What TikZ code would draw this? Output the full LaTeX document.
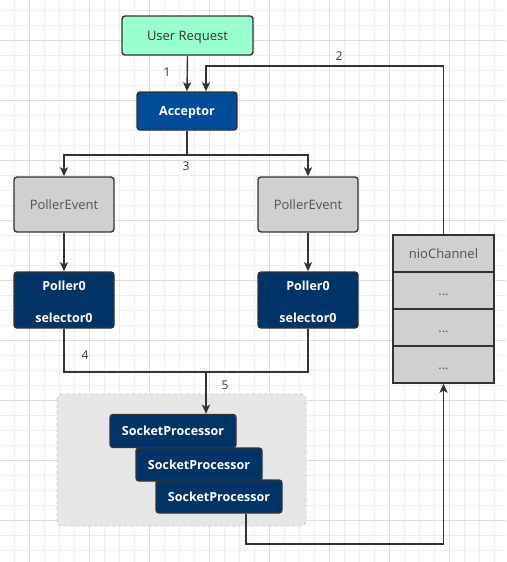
\documentclass[tikz,border=0pt]{standalone}
\usepackage{fontspec}
\setmainfont{Open Sans}
\usetikzlibrary{arrows.meta}
\definecolor{gridminor}{HTML}{EDEDED}
\definecolor{gridmajor}{HTML}{DCDCDC}
\definecolor{edge}{HTML}{333333}
\definecolor{mint}{HTML}{99FFCC}
\definecolor{accblue}{HTML}{004C99}
\definecolor{navy}{HTML}{003366}
\definecolor{lgray}{HTML}{D0D0D0}
\definecolor{poolfill}{HTML}{E6E6E6}
\definecolor{poolline}{HTML}{C8C8C8}
\tikzset{
  lbl/.style={font=\fontsize{13}{15.5}\selectfont},
  lblb/.style={font=\fontsize{12.5}{15}\selectfont\bfseries},
  oneline/.style={text height=11pt, text depth=2pt},
  box/.style={draw=edge, line width=1.4pt, rounded corners=3pt, align=center,
    inner sep=0pt, lbl},
  userbox/.style={box, oneline, fill=mint, text=edge, minimum width=131pt, minimum height=39pt},
  accbox/.style={box, oneline, fill=accblue, text=white, lblb,
    minimum width=100pt, minimum height=38pt},
  eventbox/.style={box, oneline, fill=lgray, text=edge!85, minimum width=100pt, minimum height=55pt},
  pollbox/.style={box, fill=navy, text=white, lblb,
    minimum width=100pt, minimum height=56pt},
  procbox/.style={box, oneline, fill=navy, text=white, lblb,
    minimum width=126pt, minimum height=33pt},
  cellbox/.style={draw=edge, line width=1.4pt, fill=lgray, text=edge!85, inner sep=0pt,
    oneline, minimum width=101pt, minimum height=37pt, lbl},
  wire/.style={draw=edge, line width=1.4pt},
  arr/.style={wire, -{Stealth[length=9pt,width=8pt,inset=2pt]}},
  num/.style={text=edge, font=\fontsize{12}{14}\selectfont, inner sep=0pt}
}
\begin{document}
\begin{tikzpicture}[x=1pt,y=-1pt]
  % canvas and background grid
  \fill[white] (0,0) rectangle (506,562);
  \useasboundingbox (0,0) rectangle (506,562);
  \foreach \i in {0,...,33} {
    \pgfmathsetmacro{\gx}{14+15*\i}
    \draw[gridminor, line width=0.8pt] (\gx,0) -- (\gx,562);
  }
  \foreach \i in {0,...,37} {
    \pgfmathsetmacro{\gy}{10+15*\i}
    \draw[gridminor, line width=0.8pt] (0,\gy) -- (506,\gy);
  }
  \foreach \gx in {29,89,...,509} \draw[gridmajor, line width=0.8pt] (\gx,0) -- (\gx,562);
  \foreach \gy in {40,100,...,562} \draw[gridmajor, line width=0.8pt] (0,\gy) -- (506,\gy);

  % processor pool
  \fill[poolfill, rounded corners=5pt] (57,394) rectangle (306,526);
  \draw[poolline, dashed, line width=0.8pt, rounded corners=5pt] (57,394) rectangle (306,526);

  % nodes
  \node[userbox] (user) at (187.5,35.5) {User Request};
  \node[accbox] (acc) at (187,111) {Acceptor};
  \node[eventbox] (pe1) at (64,204.5) {PollerEvent};
  \node[eventbox] (pe2) at (308,204.5) {PollerEvent};
  \node[pollbox] (p1) at (64,300) {\rule{0pt}{13pt}Poller0\\[17pt]selector0};
  \node[pollbox] (p2) at (308,300) {\rule{0pt}{13pt}Poller0\\[17pt]selector0};
  \node[procbox] (sp1) at (173,431) {SocketProcessor};
  \node[procbox] (sp2) at (199,464.5) {SocketProcessor};
  \node[procbox] (sp3) at (219,496.5) {SocketProcessor};
  \node[cellbox] (ch0) at (443.5,253.5) {nioChannel};
  \node[cellbox] (ch1) at (443.5,290.5) {...};
  \node[cellbox] (ch2) at (443.5,327.5) {...};
  \node[cellbox] (ch3) at (443.5,364.5) {...};

  % junction points of the connectors
  \coordinate (t2) at (206,66);
  \coordinate (s3) at (187,155);
  \coordinate (m4) at (206,372);
  \coordinate (r6) at (246,544);

  % connectors
  \draw[arr] (user.south) -- (acc.north);
  \draw[arr] (ch0.north) |- (t2) -- (t2 |- acc.north);
  \draw[arr] (acc.south) -- (s3) -| (pe1.north);
  \draw[arr] (s3) -| (pe2.north);
  \draw[arr] (pe1.south) -- (p1.north);
  \draw[arr] (pe2.south) -- (p2.north);
  \draw[wire] (p1.south) |- (m4);
  \draw[wire] (p2.south) |- (m4);
  \draw[arr] (m4) -- (m4 |- sp1.north);
  \draw[arr] (r6 |- sp3.south) -- (r6) -| (ch3.south);

  % step numbers
  \node[num] (n1) at (167,72) {1};
  \node[num] (n2) at (339,56) {2};
  \node[num] (n3) at (186,166) {3};
  \node[num] (n4) at (85,355) {4};
  \node[num] (n5) at (225,385) {5};
\end{tikzpicture}
\end{document}
